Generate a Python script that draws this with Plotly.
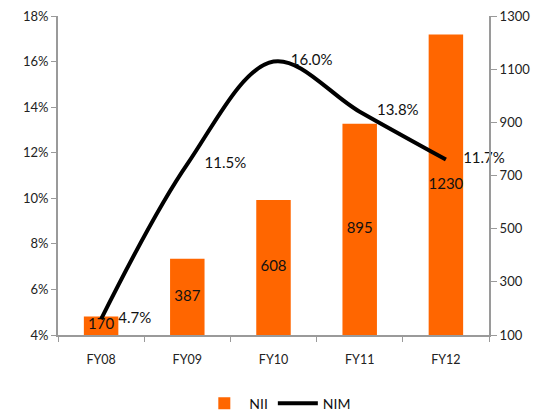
import plotly.graph_objects as go

years = ["FY08", "FY09", "FY10", "FY11", "FY12"]
nii = [170, 387, 608, 895, 1230]
nim = [4.7, 11.5, 16.0, 13.8, 11.7]

NII_FLOOR, NII_CEIL = 100, 1300
ORANGE = "#FF6600"
AXIS_GREY = "#9a9a9a"
FONT = "Lato, Open Sans, sans-serif"

fig = go.Figure()

# NII bars on the right-hand axis
fig.add_trace(go.Bar(
    x=years, y=nii, name="NII", yaxis="y",
    marker=dict(color=ORANGE, line=dict(width=0)),
    hovertemplate="%{x}: %{y}<extra>NII</extra>",
))

# NII value labels centred in the visible part of each bar
fig.add_trace(go.Scatter(
    x=years, y=[(v + NII_FLOOR) / 2 for v in nii], yaxis="y",
    mode="text", showlegend=False, hoverinfo="skip",
    text=[str(v) for v in nii], textposition="middle center",
    textfont=dict(family=FONT, size=15, color="#111111"),
    cliponaxis=False,
))

# NIM smoothed line on the left-hand percentage axis
fig.add_trace(go.Scatter(
    x=years, y=nim, name="NIM", yaxis="y2", mode="lines",
    line=dict(color="black", width=4, shape="spline", smoothing=1.0),
))

# NIM value labels placed to the right of each point
fig.add_trace(go.Scatter(
    x=years, y=nim, yaxis="y2", mode="markers+text", showlegend=False,
    marker=dict(size=26, color="rgba(0,0,0,0)"),
    text=[f"{v:.1f}%" for v in nim], textposition="middle right",
    textfont=dict(family=FONT, size=15, color="#111111"),
    hoverinfo="skip", cliponaxis=False,
))

fig.update_layout(
    width=551, height=417,
    margin=dict(l=58, r=62, t=16, b=82, autoexpand=False),
    paper_bgcolor="white", plot_bgcolor="white",
    font=dict(family=FONT, size=13, color="#222222"),
    bargap=0.6,
    showlegend=True,
    legend=dict(orientation="h", x=0.51, xanchor="center", y=-0.215, yanchor="middle",
                font=dict(size=14, color="#111111"), itemwidth=40, tracegroupgap=0),
    xaxis=dict(
        showline=True, linecolor=AXIS_GREY, linewidth=2,
        ticks="outside", ticklen=5, tickcolor=AXIS_GREY, tickson="boundaries",
        ticklabelstandoff=12, tickfont=dict(size=12.5), showgrid=False,
    ),
    yaxis=dict(
        side="right", range=[NII_FLOOR, NII_CEIL], dtick=200, tick0=100,
        showline=True, linecolor=AXIS_GREY, linewidth=2,
        ticks="outside", ticklen=6, tickcolor=AXIS_GREY,
        showgrid=False, zeroline=False, tickfont=dict(size=13),
    ),
    yaxis2=dict(
        side="left", overlaying="y", range=[4, 18], dtick=2, tick0=4,
        ticksuffix="%", showline=True, linecolor=AXIS_GREY, linewidth=2,
        ticks="outside", ticklen=5, tickcolor=AXIS_GREY,
        showgrid=False, zeroline=False, tickfont=dict(size=13),
    ),
)

fig.write_html("out.html")
